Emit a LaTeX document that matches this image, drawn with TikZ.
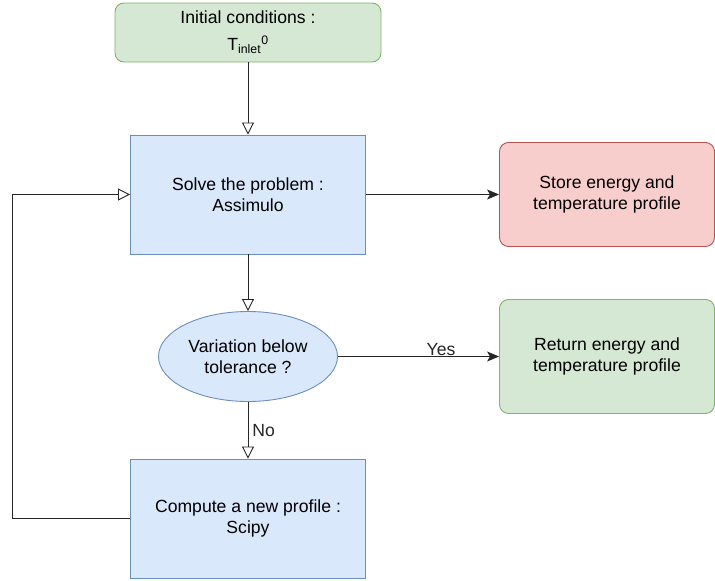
\documentclass[tikz,border=0pt]{standalone}
\usepackage{fontspec}
\setmainfont{Liberation Sans}
\usepackage{tikz}
\usetikzlibrary{positioning,shapes.geometric,arrows.meta}
\definecolor{bluefill}{HTML}{DAE8FC}
\definecolor{bluedraw}{HTML}{6C8EBF}
\definecolor{greenfill}{HTML}{D5E8D4}
\definecolor{greendraw}{HTML}{82B366}
\definecolor{redfill}{HTML}{F8CECC}
\definecolor{reddraw}{HTML}{B85450}
\tikzset{stepbox/.style={rectangle, draw=bluedraw, fill=bluefill, line width=0.9pt, minimum width=235pt, minimum height=119pt, align=center},
greenbox/.style={rectangle, rounded corners=9pt, draw=greendraw, fill=greenfill, line width=0.9pt, minimum width=215pt, align=center},
redbox/.style={rectangle, rounded corners=9pt, draw=reddraw, fill=redfill, line width=0.9pt, minimum width=215pt, minimum height=104pt, align=center},
testnode/.style={ellipse, draw=bluedraw, fill=bluefill, line width=0.9pt, minimum width=179pt, minimum height=90pt, inner sep=0pt, align=center},
openarrow/.style={line width=0.9pt, black!85, -{Triangle[open, length=12pt, width=12pt]}},
fillarrow/.style={line width=0.9pt, black!85, -{Stealth[length=12pt, width=10pt, inset=3pt]}},}

\begin{document}
\begin{tikzpicture}[node distance=162pt, font=\fontsize{17.6}{21}\selectfont]
\useasboundingbox (0,0) rectangle (715pt,-581pt);
\node [greenbox, minimum width=266pt, minimum height=59pt] (init) at (248pt,-32.5pt) {Initial conditions :\\[6pt]T\textsubscript{inlet}\textsuperscript{0}};
\node [stepbox] (solve) [below of=init] {Solve the problem :\\Assimulo};
\node [testnode] (test) [below of=solve] {Variation below\\tolerance ?};
\node [stepbox] (compute) [below of=test] {Compute a new profile :\\Scipy};
\node [redbox] (store) [node distance=359pt, right of=solve] {Store energy and\\temperature profile};
\node [greenbox, minimum height=114pt] (result) [node distance=359pt, right of=test] {Return energy and\\temperature profile};
\draw[openarrow] (init) -- (solve);
\draw[openarrow] (solve) -- (test);
\draw[openarrow] (test) -- node[right, inner sep=4pt] {No} (compute);
\draw[fillarrow] (solve) -- (store);
\draw[fillarrow] (test) -- node[pos=0.64, above, inner sep=0pt] {Yes} (result);
\draw[openarrow] (compute.west) -- ++(-118pt,0) |- (solve.west);
\end{tikzpicture}
\end{document}
